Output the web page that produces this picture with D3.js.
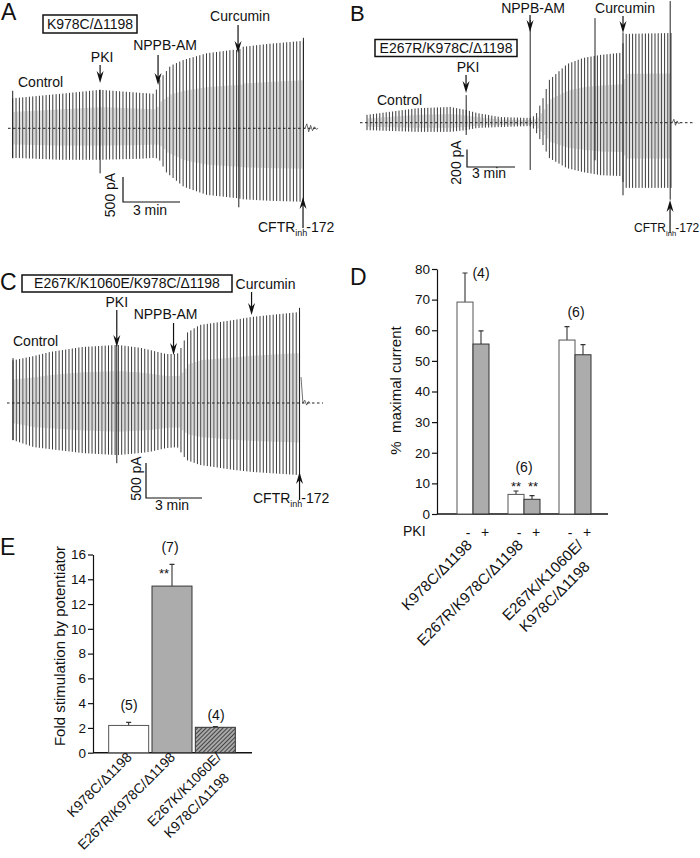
<!DOCTYPE html>
<html>
<head>
<meta charset="utf-8">
<script src="https://cdnjs.cloudflare.com/ajax/libs/d3/7.8.5/d3.min.js"></script>
<style>
  body { margin: 0; background: #fff; }
  text { font-family: "Liberation Sans", Arial, sans-serif; fill: #111; }
</style>
</head>
<body>
<script>

// ---------------- data ----------------

// A: K978C/Δ1198 trace envelope (time in min, current in pA)
var timesA = [0, 2.5, 4.6, 6.7, 7.5, 7.7, 8.1, 8.3, 9.0, 10.2, 11.6, 11.9, 12.1, 13.5, 15.3];
var upperA = [600, 690, 770, 710, 690, 960, 1150, 1250, 1370, 1500, 1570, 1570, 1630, 1690, 1750];
var lowerA = [-590, -630, -630, -610, -590, -620, -890, -950, -1170, -1330, -1390, -1400, -1420, -1450, -1470];
var spikeTimesA = [0, 4.6, 11.9, 15.3];
var spikeHiA = [750, 770, 1570, 1810];
var spikeLoA = [-600, -900, -1580, -1480];
var tailA = [0, 90, -70, 60, -50, 30, -20, 0];
var eventTimesA = [4.6, 7.65, 11.86, 15.28];

// B: E267R/K978C/Δ1198 trace envelope
var timesB = [0, 3.1, 5.2, 6.2, 6.9, 8.3, 10.0, 10.3, 10.6, 11.0, 11.4, 12.5, 13.5, 14.6, 15.9, 16.1, 19.0];
var upperB = [90, 165, 180, 145, 110, 65, 55, 55, 110, 280, 490, 670, 740, 775, 800, 1015, 1025];
var lowerB = [-85, -105, -105, -85, -60, -50, -40, -40, -120, -255, -405, -520, -565, -600, -610, -745, -745];
var spikeTimesB = [6.2, 10.2, 14.25, 16.0, 18.95];
var spikeHiB = [315, 1175, 1195, 1030, 1390];
var spikeLoB = [-140, -540, -430, -830, -880];
var tailB = [0, 40, -30, 20, -10, 0];
var eventTimesB = [6.19, 10.19, 16.0, 18.94];

// C: E267K/K1060E/K978C/Δ1198 trace envelope
var timesC = [0, 1.1, 2.0, 3.7, 5.6, 6.8, 7.3, 8.2, 8.8, 9.1, 9.3, 10.0, 11.8, 12.8, 15.35];
var upperC = [610, 670, 730, 800, 830, 790, 760, 700, 700, 830, 1000, 1115, 1185, 1230, 1300];
var lowerC = [-530, -630, -660, -715, -745, -715, -700, -645, -630, -745, -815, -885, -955, -985, -1030];
var spikeTimesC = [0, 5.56, 15.35];
var spikeHiC = [640, 830, 1360];
var spikeLoC = [-530, -860, -1030];
var tailC = [370, 0, 40, -30, 20, 0];
var eventTimesC = [5.56, 8.6, 12.78, 15.35];

// D: % maximal current
var groupsD = ["K978C/Δ1198", "E267R/K978C/Δ1198", "E267K/K1060E/|K978C/Δ1198"];
var minusPKI = [69.2, 6.4, 56.8];
var minusPKIErr = [9.5, 1.1, 4.4];
var plusPKI = [55.5, 4.8, 52.0];
var plusPKIErr = [4.3, 1.2, 3.3];
var nLabelsD = ["(4)", "(6)", "(6)"];
var sigD = [["", ""], ["**", "**"], ["", ""]];

// E: fold stimulation by potentiator
var groupsE = ["K978C/Δ1198", "E267R/K978C/Δ1198", "E267K/K1060E/|K978C/Δ1198"];
var foldE = [2.2, 13.45, 2.05];
var foldErrE = [0.25, 1.75, 0.06];
var nLabelsE = ["(5)", "(7)", "(4)"];

// ---------------- svg ----------------
var svg = d3.select("body").append("svg")
  .attr("width", 700)
  .attr("height", 858);

var defs = svg.append("defs");
var hatch = defs.append("pattern")
  .attr("id", "hatch")
  .attr("patternUnits", "userSpaceOnUse")
  .attr("width", 3)
  .attr("height", 3)
  .attr("patternTransform", "rotate(45)");
hatch.append("rect").attr("width", 3).attr("height", 3).attr("fill", "#a8a8a8");
hatch.append("line").attr("x1", 0.5).attr("x2", 0.5).attr("y1", 0).attr("y2", 3)
  .attr("stroke", "#444").attr("stroke-width", 1);

// small helpers
function label(g, x, y, txt, size, anchor) {
  return g.append("text")
    .attr("x", x)
    .attr("y", y)
    .attr("font-size", size || 14)
    .attr("text-anchor", anchor || "start")
    .text(txt);
}

function arrowDown(g, x, y1, y2) {
  g.append("line").attr("x1", x).attr("x2", x).attr("y1", y1).attr("y2", y2 - 6)
    .attr("stroke", "#111").attr("stroke-width", 1.2);
  g.append("path")
    .attr("d", `M${x},${y2} L${x - 3.5},${y2 - 12} L${x},${y2 - 8} L${x + 3.5},${y2 - 12} Z`)
    .attr("fill", "#111");
}

function arrowUp(g, x, y1, y2) {
  g.append("line").attr("x1", x).attr("x2", x).attr("y1", y1).attr("y2", y2 + 6)
    .attr("stroke", "#111").attr("stroke-width", 1.2);
  g.append("path")
    .attr("d", `M${x},${y2} L${x - 3.5},${y2 + 12} L${x},${y2 + 8} L${x + 3.5},${y2 + 12} Z`)
    .attr("fill", "#111");
}

function boxLabel(g, x, y, w, h, txt) {
  g.append("rect").attr("x", x).attr("y", y).attr("width", w).attr("height", h)
    .attr("fill", "none").attr("stroke", "#111").attr("stroke-width", 1.5);
  label(g, x + w / 2, y + h - 4, txt, 14, "middle");
}

function cftrLabel(g, x, y, size) {
  var t = g.append("text").attr("x", x).attr("y", y).attr("font-size", size);
  t.append("tspan").text("CFTR");
  t.append("tspan").attr("dy", 4).attr("font-size", size * 0.64).text("inh");
  t.append("tspan").attr("dy", -4).attr("dx", -1).text("-172");
}

// draws the sweeps of one recording from its envelope
function drawTrace(p) {
  var g = svg.append("g");
  var x = d3.scaleLinear().domain([0, 3]).range([p.left, p.left + p.px3min]);
  var y = d3.scaleLinear().domain([0, p.barPA]).range([p.base, p.base - p.barPx]);
  var up = d3.scaleLinear().domain(p.times).range(p.upper);
  var lo = d3.scaleLinear().domain(p.times).range(p.lower);
  var tEnd = p.times[p.times.length - 1];
  var n = Math.round(tEnd / p.step);
  var sweeps = d3.range(n + 1).map(function(i) { return i * tEnd / n; });
  var dx = x(tEnd / n) - x(0);

  // light grey body of each sweep
  g.selectAll("rect.body")
    .data(sweeps.slice(0, -1))
    .enter()
    .append("rect")
    .attr("x", d => x(d) + 0.7)
    .attr("y", d => y(up(d) * 0.55))
    .attr("width", dx * 0.5)
    .attr("height", d => y(lo(d) * 0.55) - y(up(d) * 0.55))
    .attr("fill", "#d9d9d9");

  // dark edge of each sweep
  g.selectAll("line.sweep")
    .data(sweeps)
    .enter()
    .append("line")
    .attr("x1", d => x(d))
    .attr("x2", d => x(d))
    .attr("y1", d => y(up(d)))
    .attr("y2", d => y(lo(d)))
    .attr("stroke", "#3a3a3a")
    .attr("stroke-width", 1);

  // artefacts at solution changes
  g.selectAll("line.spike")
    .data(p.spikeT)
    .enter()
    .append("line")
    .attr("x1", d => x(d))
    .attr("x2", d => x(d))
    .attr("y1", (d, i) => y(p.spikeHi[i]))
    .attr("y2", (d, i) => y(p.spikeLo[i]))
    .attr("stroke", "#222")
    .attr("stroke-width", 1);

  // after CFTRinh-172
  var tail = d3.line()
    .x((d, i) => x(tEnd + 0.08 + i * 0.1))
    .y(d => y(d));
  g.append("path").attr("d", tail(p.tail))
    .attr("fill", "none").attr("stroke", "#333").attr("stroke-width", 0.7);

  // zero current
  g.append("line")
    .attr("x1", p.dash[0]).attr("x2", p.dash[1])
    .attr("y1", y(0)).attr("y2", y(0))
    .attr("stroke", "#222").attr("stroke-width", 1)
    .attr("stroke-dasharray", "2.5,2.5");

  return { g: g, x: x, y: y };
}

function scaleBar(tr, x0, y0, txt, pa, txtX, txtY, minX, minY) {
  var h = tr.y(0) - tr.y(pa);
  var w = tr.x(3) - tr.x(0);
  tr.g.append("path")
    .attr("d", `M${x0},${y0 - h} L${x0},${y0} L${x0 + w},${y0}`)
    .attr("fill", "none").attr("stroke", "#111").attr("stroke-width", 1.2);
  label(tr.g, 0, 0, txt, 14, "middle")
    .attr("transform", `translate(${txtX},${txtY}) rotate(-90)`);
  label(tr.g, minX, minY, "3 min", 14, "middle");
}

// ---------------- A ----------------
var trA = drawTrace({
  times: timesA, upper: upperA, lower: lowerA,
  spikeT: spikeTimesA, spikeHi: spikeHiA, spikeLo: spikeLoA, tail: tailA,
  left: 12.7, px3min: 57, base: 128.3, barPA: 500, barPx: 25, step: 0.175,
  dash: [8, 318]
});
label(svg, 1, 20, "A", 23);
boxLabel(trA.g, 43, 15, 94, 18, "K978C/Δ1198");
label(trA.g, 18, 87, "Control");
label(trA.g, trA.x(eventTimesA[0]) + 2, 62, "PKI", 14, "middle");
arrowDown(trA.g, trA.x(eventTimesA[0]), 65, 83);
label(trA.g, trA.x(eventTimesA[1]) + 7, 50, "NPPB-AM", 14, "middle");
arrowDown(trA.g, trA.x(eventTimesA[1]), 55, 85);
label(trA.g, trA.x(eventTimesA[2]) + 2, 21, "Curcumin", 14, "middle");
arrowDown(trA.g, trA.x(eventTimesA[2]), 25, 53);
arrowUp(trA.g, trA.x(eventTimesA[3]), 228, 197);
cftrLabel(trA.g, 258, 232, 14);
scaleBar(trA, 123, 202, "500 pA", 500, 114.5, 195, 150, 215);

// ---------------- B ----------------
var trB = drawTrace({
  times: timesB, upper: upperB, lower: lowerB,
  spikeT: spikeTimesB, spikeHi: spikeHiB, spikeLo: spikeLoB, tail: tailB,
  left: 367, px3min: 48, base: 122.7, barPA: 200, barPx: 17.5, step: 0.2,
  dash: [360, 695]
});
label(svg, 350, 21, "B", 22);
boxLabel(trB.g, 375, 39.5, 142, 17, "E267R/K978C/Δ1198");
label(trB.g, 377, 105, "Control");
label(trB.g, trB.x(eventTimesB[0]) + 2, 72, "PKI", 14, "middle");
arrowDown(trB.g, trB.x(eventTimesB[0]), 75, 93);
label(trB.g, trB.x(eventTimesB[1]) + 3, 13, "NPPB-AM", 14, "middle");
arrowDown(trB.g, trB.x(eventTimesB[1]), 15, 32);
label(trB.g, trB.x(eventTimesB[2]) + 2, 13, "Curcumin", 14, "middle");
arrowDown(trB.g, trB.x(eventTimesB[2]), 16, 33);
arrowUp(trB.g, trB.x(eventTimesB[3]), 233, 200);
cftrLabel(trB.g, 634, 232, 12);
scaleBar(trB, 467, 167, "200 pA", 200, 460.5, 162.5, 489, 178);

// ---------------- C ----------------
var trC = drawTrace({
  times: timesC, upper: upperC, lower: lowerC,
  spikeT: spikeTimesC, spikeHi: spikeHiC, spikeLo: spikeLoC, tail: tailC,
  left: 13, px3min: 56, base: 403, barPA: 500, barPx: 35, step: 0.177,
  dash: [7, 323]
});
label(svg, 0, 290, "C", 23);
boxLabel(trC.g, 22, 275, 210, 17, "E267K/K1060E/K978C/Δ1198");
label(trC.g, 13, 346, "Control");
label(trC.g, trC.x(eventTimesC[0]), 307, "PKI", 14, "middle");
arrowDown(trC.g, trC.x(eventTimesC[0]), 310, 347);
label(trC.g, trC.x(eventTimesC[1]) - 8, 319, "NPPB-AM", 14, "middle");
arrowDown(trC.g, trC.x(eventTimesC[1]), 323, 355);
label(trC.g, trC.x(eventTimesC[2]) + 14, 289, "Curcumin", 14, "middle");
arrowDown(trC.g, trC.x(eventTimesC[2]), 292, 315);
arrowUp(trC.g, trC.x(eventTimesC[3]), 500, 472);
cftrLabel(trC.g, 253, 503, 14);
scaleBar(trC, 146, 498, "500 pA", 500, 140.5, 478.5, 172, 510);

// category label, "|" splits two lines
function catLabel(g, x, y, txt, size) {
  var lines = txt.split("|");
  var t = g.append("text")
    .attr("transform", `translate(${x},${y}) rotate(-45)`)
    .attr("font-size", size);
  var spans = lines.map(function(s, i) {
    return t.append("tspan").attr("x", 0).attr("dy", i ? 20 : 0).text(s);
  });
  var w0 = spans[0].node().getComputedTextLength();
  spans.forEach(function(s, i) { s.attr("x", -w0 + (i ? 4 : 0)); });
}

// ---------------- D ----------------
var gD = svg.append("g");
label(svg, 350, 285, "D", 23);
var yD = d3.scaleLinear().domain([0, 80]).range([514, 269]);
var xD = d3.scalePoint().domain(groupsD).range([473, 575]);
var bwD = 16;

var axD = gD.append("g")
  .attr("transform", "translate(437,0)")
  .call(d3.axisLeft(yD).tickValues(d3.range(0, 81, 10)).tickSize(5).tickSizeOuter(0).tickPadding(2));
axD.attr("font-size", 13.5).attr("font-family", "Liberation Sans, Arial, sans-serif");
axD.selectAll("path, line").attr("stroke", "#111").attr("stroke-width", 1.2);
gD.append("line").attr("x1", 437).attr("x2", 608).attr("y1", yD(0)).attr("y2", yD(0))
  .attr("stroke", "#111").attr("stroke-width", 1.5);

label(gD, 0, 0, "%  maximal current", 15, "middle")
  .attr("transform", "translate(401,390.5) rotate(-90)")
  .attr("xml:space", "preserve");

function errBar(g, cx, yTop, yEnd) {
  g.append("path")
    .attr("d", `M${cx},${yTop} L${cx},${yEnd} M${cx - 2.5},${yEnd} L${cx + 2.5},${yEnd}`)
    .attr("stroke", "#333").attr("stroke-width", 1.1).attr("fill", "none");
}

groupsD.forEach(function(grp, i) {
  var cx = xD(grp);
  errBar(gD, cx - bwD / 2, yD(minusPKI[i]), yD(minusPKI[i] + minusPKIErr[i]));
  errBar(gD, cx + bwD / 2, yD(plusPKI[i]), yD(plusPKI[i] + plusPKIErr[i]));
  gD.append("rect")
    .attr("x", cx - bwD).attr("y", yD(minusPKI[i]))
    .attr("width", bwD).attr("height", yD(0) - yD(minusPKI[i]))
    .attr("fill", "#fff").attr("stroke", "#555").attr("stroke-width", 1);
  gD.append("rect")
    .attr("x", cx).attr("y", yD(plusPKI[i]))
    .attr("width", bwD).attr("height", yD(0) - yD(plusPKI[i]))
    .attr("fill", "#acacac").attr("stroke", "#333").attr("stroke-width", 1);
  label(gD, cx - bwD / 2 + 3, 538, "-", 14, "middle");
  label(gD, cx + bwD / 2 + 4, 537, "+", 14, "middle");
  label(gD, cx - bwD / 2, 491, sigD[i][0], 13, "middle");
  label(gD, cx + bwD / 2 + 1, 491, sigD[i][1], 13, "middle");
  catLabel(gD, cx + (grp.indexOf("|") > 0 ? 9 : 0), 546, grp, 15);
});
label(gD, xD(groupsD[0]) + 8, 278, nLabelsD[0], 14, "middle");
label(gD, xD(groupsD[1]), 472, nLabelsD[1], 14, "middle");
label(gD, xD(groupsD[2]) + 1, 317, nLabelsD[2], 14, "middle");
label(gD, 403, 536, "PKI", 14);

// ---------------- E ----------------
var gE = svg.append("g");
label(svg, 0, 555, "E", 23);
var yE = d3.scaleLinear().domain([0, 16]).range([752.7, 554.5]);
var xE = d3.scaleBand().domain(groupsE).range([107, 237]).paddingInner(0.077).paddingOuter(0.0385);
var fillsE = ["#fff", "#acacac", "url(#hatch)"];

var axE = gE.append("g")
  .attr("transform", "translate(93,0)")
  .call(d3.axisLeft(yE).tickValues(d3.range(0, 17, 2)).tickSize(5).tickSizeOuter(0).tickPadding(2));
axE.attr("font-size", 13.5).attr("font-family", "Liberation Sans, Arial, sans-serif");
axE.selectAll("path, line").attr("stroke", "#111").attr("stroke-width", 1.2);
gE.append("line").attr("x1", 93).attr("x2", 252).attr("y1", yE(0)).attr("y2", yE(0))
  .attr("stroke", "#111").attr("stroke-width", 1.5);

label(gE, 0, 0, "Fold stimulation by potentiator", 15, "middle")
  .attr("transform", "translate(65,646) rotate(-90)");

groupsE.forEach(function(grp, i) {
  var cx = xE(grp) + xE.bandwidth() / 2;
  errBar(gE, cx, yE(foldE[i]), yE(foldE[i] + foldErrE[i]));
  gE.append("rect")
    .attr("x", xE(grp)).attr("y", yE(foldE[i]))
    .attr("width", xE.bandwidth()).attr("height", yE(0) - yE(foldE[i]))
    .attr("fill", fillsE[i]).attr("stroke", i ? "#333" : "#555").attr("stroke-width", 1);
  catLabel(gE, cx + (grp.indexOf("|") > 0 ? 7 : 4), 758, grp, 13.8);
});
label(gE, 129, 710, nLabelsE[0], 14, "middle");
label(gE, 170, 552, nLabelsE[1], 14, "middle");
label(gE, 164, 578, "**", 13, "middle");
label(gE, 216, 720, nLabelsE[2], 14, "middle");

</script>
</body>
</html>
